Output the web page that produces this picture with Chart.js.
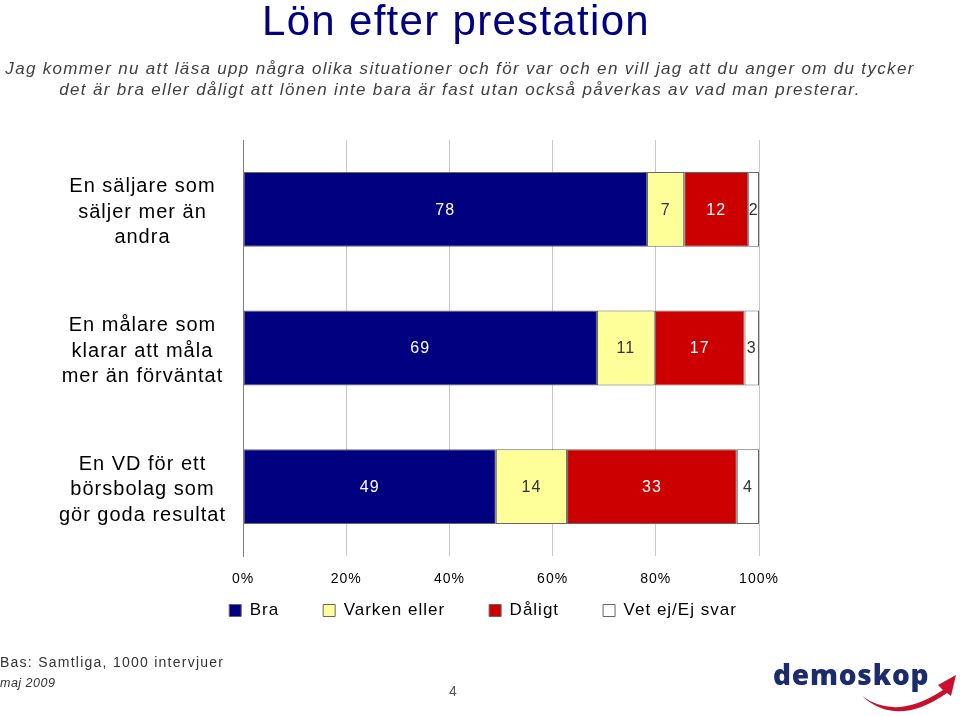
<!DOCTYPE html>
<html>
<head>
<meta charset="utf-8">
<script src="https://cdn.jsdelivr.net/npm/chart.js@4"></script>
<style>
  body { margin: 0; width: 960px; height: 716px; overflow: hidden; background: #fff;
         font-family: "Liberation Sans", Arial, sans-serif; position: relative; }
  #chart { position: absolute; left: 0; top: 0; }
  .txt { position: absolute; white-space: nowrap; }
  #title { left: 0; width: 912px; top: 0; text-align: center; font-size: 42px; line-height: 42px;
           color: #000080; letter-spacing: 1.3px; }
  #sub { left: 0; width: 920px; top: 58px; text-align: center; font-size: 17px; line-height: 21px;
         font-style: italic; color: #404040; letter-spacing: 1.33px; }
  #bas { left: 0; top: 654px; font-size: 14px; color: #333; letter-spacing: 1.25px; }
  #maj { left: 0; top: 676px; font-size: 12.5px; font-style: italic; color: #333; letter-spacing: 0.5px; }
  #page { left: 449px; top: 683px; font-size: 14px; color: #555; }
  #logo { left: 773px; top: 656px; font-family: "Open Sans", sans-serif; font-size: 28px; line-height: 36px;
          font-weight: 800; color: #1b2b6b; letter-spacing: 0.8px; }
  #swoosh { position: absolute; left: 850px; top: 665px; }
</style>
</head>
<body>
<canvas id="chart" width="960" height="716"></canvas>
<div id="title" class="txt">Lön efter prestation</div>
<div id="sub" class="txt">Jag kommer nu att läsa upp några olika situationer och för var och en vill jag att du anger om du tycker<br>det är bra eller dåligt att lönen inte bara är fast utan också påverkas av vad man presterar.</div>
<div id="bas" class="txt">Bas: Samtliga, 1000 intervjuer</div>
<div id="maj" class="txt">maj 2009</div>
<div id="page" class="txt">4</div>
<div id="logo" class="txt">demoskop</div>
<svg id="swoosh" width="110" height="51" viewBox="0 0 110 51">
  <path d="M 12 31 Q 46 56 93 25 L 88 20 L 106 10 L 101 31 L 97 28 Q 47 63 12 31 Z" fill="#c8102e"/>
</svg>

<script>
// Lön efter prestation - staplade liggande staplar

const categories = [
    ['En säljare som', 'säljer mer än', 'andra'],
    ['En målare som', 'klarar att måla', 'mer än förväntat'],
    ['En VD för ett', 'börsbolag som', 'gör goda resultat']
];
const seriesNames = ['Bra', 'Varken eller', 'Dåligt', 'Vet ej/Ej svar'];
const bra = [78.3, 68.6, 49.0];
const varken = [7.2, 11.2, 13.8];
const daligt = [12.4, 17.4, 32.9];
const vetEj = [2.1, 2.8, 4.3];
const xTicks = [0, 20, 40, 60, 80, 100];

const fontFamily = '"Liberation Sans", Arial, sans-serif';
const fillColors = ['#000080', '#ffff99', '#cc0000', '#ffffff'];
const labelColors = ['#ffffff', '#333333', '#ffffff', '#333333'];

// Lite bredare teckenavstånd, som i originalet
const spacing = {
    id: 'spacing',
    beforeUpdate(chart) { chart.ctx.letterSpacing = '1px'; },
    beforeDraw(chart) { chart.ctx.letterSpacing = '1px'; }
};

// Värden mitt i varje segment
const valueLabels = {
    id: 'valueLabels',
    afterDatasetsDraw(chart) {
        const ctx = chart.ctx;
        ctx.save();
        ctx.font = '16px ' + fontFamily;
        ctx.textAlign = 'center';
        ctx.textBaseline = 'middle';
        chart.data.datasets.forEach((ds, i) => {
            chart.getDatasetMeta(i).data.forEach((bar, j) => {
                ctx.fillStyle = labelColors[i];
                ctx.fillText(Math.round(ds.data[j]), (bar.x + bar.base) / 2, bar.y + 1);
            });
        });
        ctx.restore();
    }
};

const series = [bra, varken, daligt, vetEj];

new Chart(document.getElementById('chart'), {
    type: 'bar',
    data: {
        labels: categories,
        datasets: series.map((values, i) => ({
            label: seriesNames[i],
            data: values,
            backgroundColor: fillColors[i],
            borderColor: '#666666',
            borderWidth: 1,
            borderSkipped: false,
            barPercentage: 0.54,
            categoryPercentage: 1
        }))
    },
    options: {
        indexAxis: 'y',
        responsive: false,
        animation: false,
        devicePixelRatio: 1,
        layout: { padding: { left: 6, right: 0, top: 140, bottom: 87 } },
        plugins: {
            tooltip: { enabled: false },
            legend: {
                position: 'bottom',
                labels: {
                    boxWidth: 12,
                    boxHeight: 12,
                    padding: 44,
                    color: '#000',
                    font: { size: 17, family: fontFamily }
                }
            }
        },
        scales: {
            x: {
                stacked: true,
                min: xTicks[0],
                max: xTicks[xTicks.length - 1],
                grid: { color: '#c8c8c8', drawTicks: false },
                border: { display: false },
                ticks: {
                    stepSize: xTicks[1] - xTicks[0],
                    mirror: true,
                    padding: -32,
                    color: '#000',
                    font: { size: 14, family: fontFamily },
                    callback: v => v + '%'
                },
                afterFit(scale) { scale.height = 2; }
            },
            y: {
                stacked: true,
                grid: { display: false, drawTicks: false },
                border: { display: true, color: '#808080' },
                ticks: {
                    color: '#000',
                    crossAlign: 'center',
                    padding: 17,
                    labelOffset: 3,
                    font: { size: 20, family: fontFamily, lineHeight: 1.27 }
                },
                afterFit(scale) { scale.width = 237; }
            },
            y2: {
                position: 'right',
                grid: { display: false, drawTicks: false },
                border: { display: false },
                ticks: { display: false },
                afterFit(scale) { scale.width = 201; }
            }
        }
    },
    plugins: [spacing, valueLabels]
});
</script>
</body>
</html>
